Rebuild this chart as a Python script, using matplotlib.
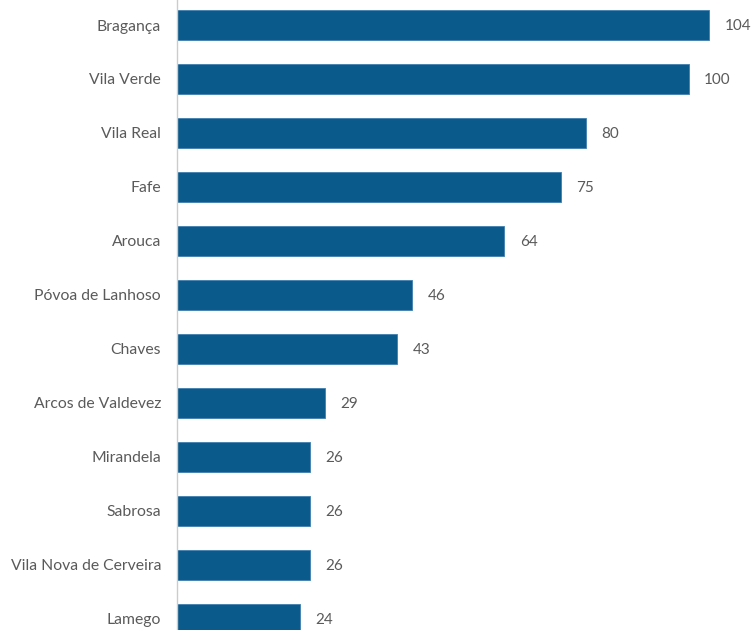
import matplotlib
matplotlib.use("Agg")
import matplotlib.pyplot as plt

categories = ["Bragança", "Vila Verde", "Vila Real", "Fafe", "Arouca", "Póvoa de Lanhoso",
              "Chaves", "Arcos de Valdevez", "Mirandela", "Sabrosa", "Vila Nova de Cerveira", "Lamego"]
values = [104, 100, 80, 75, 64, 46, 43, 29, 26, 26, 26, 24]

plt.rcParams['font.family'] = ['Lato', 'DejaVu Sans']

fig = plt.figure(figsize=(7.53, 6.3), dpi=100)
ax = fig.add_axes([177/753, 0, 576/753, 1])

pos = list(range(len(categories)))
ax.barh(pos, values, height=0.574, color="#0b5a8c", edgecolor="#3f7fae", linewidth=0.6)
for p, v in zip(pos, values):
    ax.text(v + 3.0, p, str(v), va="center_baseline", ha="left", fontsize=11, color="#5a5a5a")

ax.set_yticks(pos)
ax.set_yticklabels(categories, fontsize=11.3, color="#5a5a5a")
ax.tick_params(axis="y", length=0, pad=11.5)
ax.set_xticks([])
ax.set_xlim(0, 576/5.115)
ax.set_ylim(605/54, -25/54)
for s in ["top", "right", "bottom"]:
    ax.spines[s].set_visible(False)
ax.spines["left"].set_color("#cccccc")
ax.spines["left"].set_linewidth(1.0)

fig.savefig("out.png", dpi=100)
